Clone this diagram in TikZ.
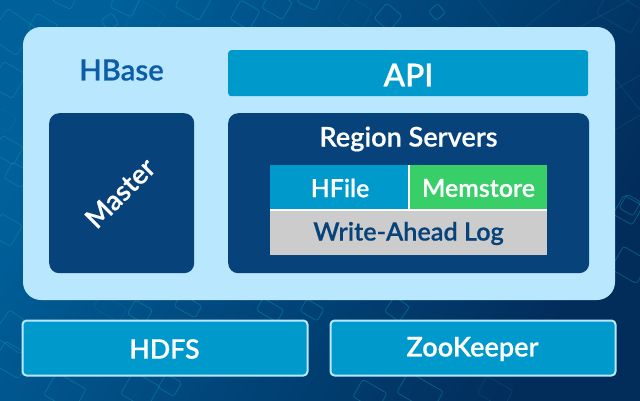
\documentclass[tikz,border=0pt]{standalone}
\usepackage{fontspec}
\setmainfont{Lato}
\newfontfamily\medfont[FakeBold=0.5]{Lato Semibold}
\definecolor{panel}{HTML}{B9E8FE}
\definecolor{azure}{HTML}{0099CC}
\definecolor{navy}{HTML}{07427A}
\definecolor{mint}{HTML}{38CE68}
\definecolor{silver}{HTML}{CCCCCC}
\definecolor{hbasetext}{HTML}{0E5CA8}
\definecolor{bgA}{HTML}{00609A}
\definecolor{bgB}{HTML}{022C5A}
\definecolor{pattern}{HTML}{0E94A8}
\tikzset{
  box/.style={draw=none,inner sep=0pt,anchor=north west,font=\medfont},
  lbl/.style={inner sep=0pt,font=\medfont\fontsize{#1}{30}\selectfont},
  sq/.style={draw=pattern,line width=0.7pt,rounded corners=2.5pt,opacity=0.5},
  sqf/.style={draw=pattern,line width=0.7pt,rounded corners=2.5pt,opacity=0.22},
}
\newcommand{\sqr}[6][sq]{\draw[#1,rotate around={#6:(#2,#3)}] (#2-#4/2,#3-#5/2) rectangle (#2+#4/2,#3+#5/2);}
\begin{document}
\begin{tikzpicture}[x=1bp,y=-1bp]
\useasboundingbox (0,0) rectangle (640,400);
\shade[left color=bgA,right color=bgB,shading angle=60] (0,0) rectangle (640,400);
% background motif
\begin{scope}
\clip (0,0) rectangle (640,400);
\sqr{125}{3}{24}{20}{-25}
\sqr{65}{-2}{20}{16}{-25}
\sqr{12}{32}{34}{34}{-35}
\sqr{43}{27}{24}{18}{-30}
\sqr{110}{22}{13}{13}{35}
\sqr[sqf]{145}{20}{30}{30}{-30}
\sqr{193}{3}{28}{24}{-30}
\sqr{245}{15}{22}{22}{-30}
\sqr{277}{5}{24}{20}{-30}
\sqr{310}{-2}{20}{18}{-25}
\sqr{388}{17}{20}{20}{-40}
\sqr[sqf]{355}{15}{26}{26}{-30}
\sqr{437}{12}{12}{12}{40}
\sqr{8}{80}{26}{28}{-30}
\sqr[sqf]{4}{120}{20}{16}{-30}
\sqr{8}{150}{24}{20}{-30}
\sqr{17}{175}{20}{18}{-30}
\sqr{6}{230}{24}{24}{-30}
\sqr{15}{332}{34}{30}{-35}
\sqr{140}{312}{20}{16}{-30}
\sqr{188}{306}{24}{14}{-30}
\sqr[sqf]{110}{308}{30}{16}{-30}
\sqr{270}{310}{24}{14}{-30}
\sqr{312}{310}{20}{14}{-30}
\sqr{397}{309}{18}{18}{-35}
\sqr{628}{210}{22}{22}{-30}
\sqr{630}{205}{16}{16}{-30}
\sqr{630}{265}{30}{26}{-30}
\sqr{12}{360}{30}{26}{-30}
\sqr{170}{385}{18}{16}{-30}
\sqr{65}{392}{34}{26}{-30}
\sqr{140}{390}{30}{26}{-30}
\sqr{420}{392}{40}{24}{-30}
\sqr{370}{395}{28}{20}{-30}
\sqr[sqf]{495}{392}{30}{20}{-30}
\sqr[sqf]{620}{12}{40}{26}{-30}
\draw[sqf] (478,0) -- (500,27);
\draw[sqf] (560,0) -- (525,27);
\draw[sqf] (600,60) -- (640,110);
\draw[sqf] (615,90) -- (640,75);
\draw[sqf] (615,130) -- (640,115);
\draw[sqf] (630,0) -- (580,27);
\end{scope}
% containers
\fill[panel,rounded corners=18bp] (23,27) rectangle (615,300);
\node[box,fill=azure,minimum width=360bp,minimum height=46bp,rounded corners=3bp] (api) at (228,50) {};
\node[lbl=31.5,text=white] at (408.5,75) (apil) {API};
\node[lbl=29.4,text=hbasetext] (hbase) at (121.5,70) {HBase};
\node[box,fill=navy,minimum width=145bp,minimum height=160bp,rounded corners=10bp] (master) at (49,113) {};
\node[lbl=27.5,text=white,rotate=45] (masterl) at (120,193) {Master};
\node[box,fill=navy,minimum width=361bp,minimum height=160bp,rounded corners=10bp] (region) at (228,113) {};
\node[lbl=27.2,text=white] (regionl) at (408.5,139) {Region Servers};
\fill[white] (270,165) rectangle (547,211);
\node[box,fill=azure,minimum width=138bp,minimum height=44bp] (hfile) at (270,165) {};
\node[lbl=25,text=white] (hfilel) at (340,188) {HFile};
\node[box,fill=mint,minimum width=137bp,minimum height=44bp] (mem) at (410,165) {};
\node[lbl=25,text=white] (meml) at (478.5,188) {Memstore};
\node[box,fill=silver,minimum width=277bp,minimum height=44bp] (wal) at (270,211) {};
\node[lbl=25.3,text=navy] (wall) at (408.5,233.5) {Write-Ahead Log};
\node[box,fill=azure,draw=panel,line width=2bp,minimum width=285bp,minimum height=55bp,rounded corners=4bp] (hdfs) at (21.5,319.5) {};
\node[lbl=26.8,text=white] (hdfsl) at (164.5,349) {HDFS};
\node[box,fill=azure,draw=panel,line width=2bp,minimum width=285bp,minimum height=55bp,rounded corners=4bp] (zk) at (329.5,319.5) {};
\node[lbl=27.2,text=white] (zkl) at (472.5,349) {ZooKeeper};
\end{tikzpicture}
\end{document}
